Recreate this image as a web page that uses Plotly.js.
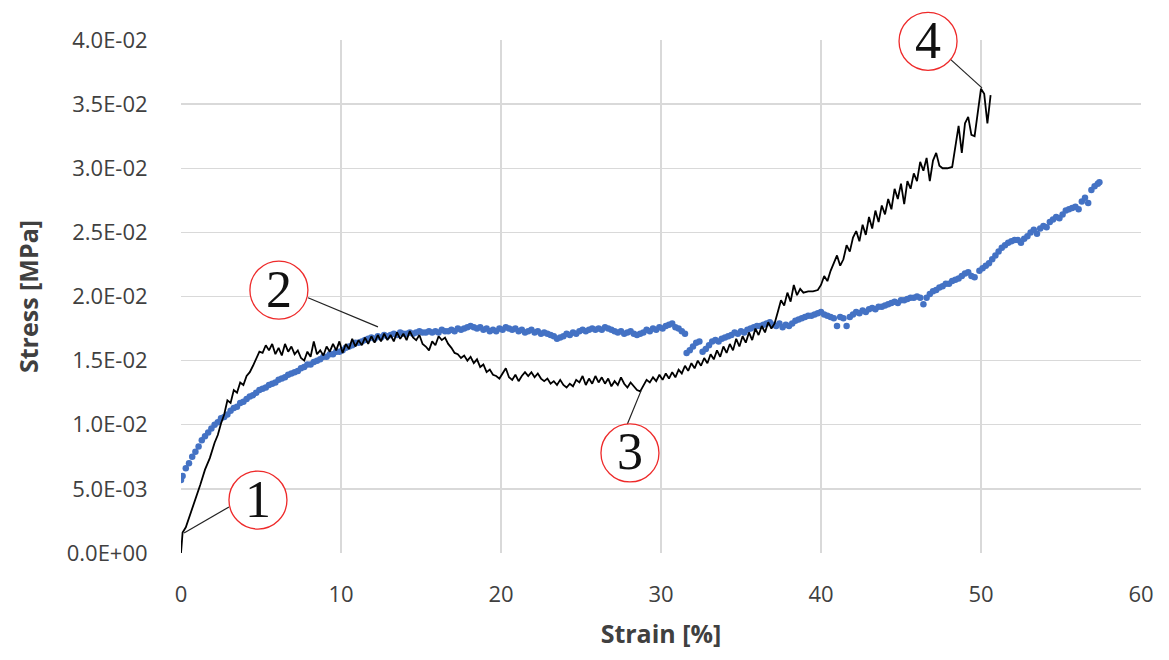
<!DOCTYPE html>
<html>
<head>
<meta charset="utf-8">
<script src="https://cdn.plot.ly/plotly-3.0.1.min.js"></script>
<style>html,body{margin:0;padding:0;background:#fff;}#chart{width:1169px;height:660px;}</style>
</head>
<body>
<div id="chart"></div>
<script>
// Black curve (strain %, stress MPa)
const blackX = [0,0.1,0.3,0.6,0.9,1.2,1.5,1.8,2.1,2.3,2.5,2.7,2.9,3.1,3.3,3.5,3.7,3.9,4.1,4.3,4.5,4.7,4.9,5.1,5.3,5.5,5.7,5.9,6.1,6.3,6.5,6.7,6.9,7.1,7.3,7.5,7.7,7.9,8.1,8.3,8.5,8.7,8.9,9.1,9.3,9.5,9.7,9.9,10.1,10.3,10.5,10.7,10.9,11.1,11.3,11.5,11.7,11.9,12.1,12.3,12.5,12.7,12.9,13.1,13.3,13.5,13.7,13.9,14.1,14.3,14.5,14.7,14.9,15.1,15.3,15.5,15.7,15.9,16.1,16.3,16.5,16.7,16.9,17.1,17.3,17.5,17.7,17.9,18.1,18.3,18.5,18.7,18.9,19.1,19.3,19.5,19.7,19.9,20.1,20.3,20.5,20.7,20.9,21.1,21.3,21.5,21.7,21.9,22.1,22.3,22.5,22.7,22.9,23.1,23.3,23.5,23.7,23.9,24.1,24.3,24.5,24.7,24.9,25.1,25.3,25.5,25.7,25.9,26.1,26.3,26.5,26.7,26.9,27.1,27.3,27.5,27.7,27.9,28.1,28.3,28.5,28.7,28.9,29.1,29.3,29.5,29.7,29.9,30.1,30.3,30.5,30.7,30.9,31.1,31.3,31.5,31.7,31.9,32.1,32.3,32.5,32.7,32.9,33.1,33.3,33.5,33.7,33.9,34.1,34.3,34.5,34.7,34.9,35.1,35.3,35.5,35.7,35.9,36.1,36.3,36.5,36.7,36.9,37.1,37.3,37.5,37.7,37.9,38.1,38.3,38.5,38.7,38.9,39.2,39.5,39.8,40.0,40.2,40.4,40.6,40.8,41.0,41.2,41.4,41.6,41.8,42.0,42.2,42.4,42.6,42.8,43.0,43.2,43.4,43.6,43.8,44.0,44.2,44.4,44.6,44.8,45.0,45.2,45.4,45.6,45.8,46.0,46.2,46.4,46.6,46.8,47.0,47.2,47.4,47.6,47.9,48.2,48.4,48.6,48.8,49.0,49.2,49.4,49.6,49.8,50.0,50.2,50.4,50.6];
const blackY = [0,0.0016,0.0020,0.0031,0.0041,0.0053,0.0065,0.0074,0.0086,0.0092,0.0101,0.0108,0.0119,0.0117,0.0127,0.0125,0.0133,0.0131,0.0138,0.0141,0.0146,0.0152,0.0157,0.0156,0.0162,0.0158,0.0163,0.0155,0.0160,0.0154,0.0163,0.0157,0.0161,0.0155,0.0158,0.0152,0.0150,0.0157,0.0153,0.0165,0.0155,0.0158,0.0154,0.0161,0.0157,0.0163,0.0158,0.0165,0.0156,0.0163,0.0159,0.0167,0.0161,0.0166,0.0162,0.0168,0.0163,0.0169,0.0164,0.0170,0.0165,0.0171,0.0166,0.0170,0.0165,0.0172,0.0167,0.0171,0.0166,0.0173,0.0168,0.0166,0.0170,0.0163,0.0161,0.0158,0.0165,0.0162,0.0169,0.0166,0.0168,0.0163,0.0160,0.0156,0.0155,0.0152,0.0154,0.0150,0.0153,0.0148,0.0151,0.0145,0.0147,0.0141,0.0143,0.0139,0.0138,0.0136,0.0140,0.0144,0.0137,0.0135,0.0139,0.0134,0.0138,0.0141,0.0138,0.0141,0.0137,0.0140,0.0136,0.0134,0.0136,0.0132,0.0134,0.0131,0.0135,0.0131,0.0129,0.0132,0.0130,0.0135,0.0133,0.0138,0.0131,0.0136,0.0132,0.0138,0.0133,0.0137,0.0132,0.0136,0.0130,0.0134,0.0131,0.0137,0.0132,0.0129,0.0133,0.0130,0.0127,0.0126,0.0131,0.0135,0.0133,0.0137,0.0134,0.0139,0.0135,0.0140,0.0136,0.0141,0.0137,0.0143,0.0140,0.0146,0.0142,0.0148,0.0144,0.0150,0.0146,0.0152,0.0148,0.0155,0.0151,0.0158,0.0153,0.0161,0.0156,0.0163,0.0158,0.0167,0.0161,0.0169,0.0164,0.0172,0.0166,0.0175,0.0170,0.0177,0.0172,0.0180,0.0175,0.0179,0.0188,0.0197,0.0193,0.0203,0.0196,0.0209,0.0201,0.0206,0.0203,0.0204,0.0204,0.0205,0.0209,0.0216,0.0212,0.0220,0.0226,0.0232,0.0224,0.0229,0.0240,0.0235,0.0246,0.0251,0.0243,0.0256,0.0248,0.0262,0.0253,0.0267,0.0258,0.0271,0.0264,0.0276,0.0268,0.0284,0.0276,0.0288,0.0272,0.0290,0.0284,0.0296,0.0290,0.0305,0.0298,0.0308,0.0290,0.0306,0.0312,0.0302,0.0300,0.0300,0.0301,0.0318,0.0333,0.0312,0.0335,0.0340,0.0326,0.0325,0.0345,0.0362,0.0358,0.0335,0.0357];

// Blue scatter series
const blueX = [0.0,0.1,0.3,0.5,0.7,0.9,1.1,1.3,1.5,1.7,1.9,2.1,2.3,2.5,2.7,2.9,3.1,3.3,3.5,3.7,3.9,4.1,4.3,4.5,4.7,4.9,5.1,5.3,5.5,5.7,5.9,6.1,6.3,6.5,6.7,6.9,7.1,7.3,7.5,7.7,7.9,8.1,8.3,8.5,8.7,8.9,9.1,9.3,9.5,9.7,9.9,10.1,10.3,10.5,10.7,10.9,11.1,11.3,11.5,11.7,11.9,12.1,12.3,12.5,12.7,12.9,13.1,13.3,13.5,13.7,13.9,14.1,14.3,14.5,14.7,14.9,15.1,15.3,15.5,15.7,15.9,16.1,16.3,16.5,16.7,16.9,17.1,17.3,17.5,17.7,17.9,18.1,18.3,18.5,18.7,18.9,19.1,19.3,19.5,19.7,19.9,20.1,20.3,20.5,20.7,20.9,21.1,21.3,21.5,21.7,21.9,22.1,22.3,22.5,22.7,22.9,23.1,23.3,23.5,23.7,23.9,24.1,24.3,24.5,24.7,24.9,25.1,25.3,25.5,25.7,25.9,26.1,26.3,26.5,26.7,26.9,27.1,27.3,27.5,27.7,27.9,28.1,28.3,28.5,28.7,28.9,29.1,29.3,29.5,29.7,29.9,30.1,30.3,30.5,30.7,30.9,31.1,31.3,31.5,31.6,31.8,32.0,32.2,32.4,32.6,32.8,33.0,33.2,33.4,33.6,33.8,34.0,34.2,34.4,34.6,34.8,35.0,35.2,35.4,35.6,35.8,36.0,36.2,36.4,36.6,36.8,37.0,37.2,37.4,37.6,37.8,38.0,38.2,38.4,38.6,38.8,39.0,39.2,39.4,39.6,39.8,40.0,40.2,40.4,40.6,40.8,41.0,41.2,41.4,41.6,41.8,42.0,42.2,42.4,42.6,42.8,43.0,43.2,43.4,43.6,43.8,44.0,44.2,44.4,44.6,44.8,45.0,45.2,45.4,45.6,45.8,46.0,46.2,46.4,46.6,46.8,47.0,47.2,47.4,47.6,47.8,48.0,48.2,48.4,48.6,48.8,49.0,49.2,49.4,49.6,49.9,50.1,50.3,50.5,50.7,50.9,51.1,51.3,51.5,51.7,51.9,52.1,52.3,52.5,52.7,52.9,53.1,53.3,53.5,53.7,53.9,54.1,54.3,54.5,54.7,54.9,55.1,55.3,55.5,55.7,55.9,56.1,56.3,56.5,56.7,56.9,57.1,57.3,57.4];
const blueY = [0.0057,0.0060,0.0066,0.0070,0.0075,0.0079,0.0083,0.0088,0.0091,0.0094,0.0097,0.0100,0.0102,0.0105,0.0106,0.0108,0.0111,0.0113,0.0114,0.0117,0.0118,0.0120,0.0122,0.0123,0.0125,0.0127,0.0128,0.0129,0.0131,0.0132,0.0133,0.0135,0.0136,0.0137,0.0139,0.0140,0.0141,0.0142,0.0144,0.0145,0.0147,0.0147,0.0149,0.0150,0.0151,0.0153,0.0153,0.0155,0.0155,0.0157,0.0157,0.0158,0.0160,0.0161,0.0162,0.0164,0.0164,0.0165,0.0166,0.0167,0.0168,0.0167,0.0169,0.0168,0.0170,0.0169,0.0170,0.0171,0.0170,0.0172,0.0171,0.0171,0.0172,0.0171,0.0172,0.0173,0.0172,0.0172,0.0173,0.0172,0.0173,0.0172,0.0174,0.0173,0.0173,0.0174,0.0173,0.0175,0.0174,0.0175,0.0176,0.0177,0.0176,0.0175,0.0176,0.0174,0.0175,0.0173,0.0174,0.0173,0.0175,0.0174,0.0176,0.0175,0.0174,0.0175,0.0173,0.0174,0.0172,0.0173,0.0174,0.0172,0.0173,0.0171,0.0172,0.0171,0.0170,0.0169,0.0167,0.0168,0.0169,0.0171,0.0170,0.0172,0.0171,0.0173,0.0174,0.0173,0.0174,0.0175,0.0174,0.0175,0.0174,0.0176,0.0175,0.0174,0.0173,0.0172,0.0173,0.0171,0.0172,0.0173,0.0171,0.0170,0.0171,0.0172,0.0174,0.0173,0.0175,0.0174,0.0176,0.0175,0.0177,0.0178,0.0179,0.0176,0.0175,0.0173,0.0171,0.0156,0.0158,0.0161,0.0164,0.0165,0.0157,0.0159,0.0162,0.0165,0.0166,0.0165,0.0167,0.0168,0.0169,0.0170,0.0172,0.0171,0.0173,0.0172,0.0174,0.0175,0.0176,0.0177,0.0177,0.0178,0.0179,0.0180,0.0178,0.0177,0.0179,0.0176,0.0178,0.0177,0.0179,0.0181,0.0182,0.0183,0.0184,0.0185,0.0185,0.0186,0.0187,0.0188,0.0186,0.0185,0.0184,0.0183,0.0177,0.0184,0.0183,0.0177,0.0184,0.0186,0.0188,0.0187,0.0189,0.0188,0.0190,0.0191,0.0190,0.0192,0.0192,0.0193,0.0194,0.0195,0.0196,0.0195,0.0197,0.0197,0.0198,0.0199,0.0199,0.0200,0.0199,0.0194,0.0199,0.0202,0.0204,0.0205,0.0207,0.0208,0.0210,0.0210,0.0212,0.0213,0.0214,0.0216,0.0218,0.0219,0.0216,0.0215,0.0220,0.0222,0.0224,0.0226,0.0229,0.0232,0.0235,0.0238,0.0240,0.0242,0.0243,0.0244,0.0244,0.0242,0.0245,0.0247,0.0250,0.0252,0.0249,0.0253,0.0255,0.0254,0.0258,0.0260,0.0262,0.0261,0.0264,0.0267,0.0268,0.0269,0.0270,0.0268,0.0274,0.0277,0.0273,0.0283,0.0286,0.0288,0.0289];

// Axis ticks
const yTickVals = [0,0.005,0.01,0.015,0.02,0.025,0.03,0.035,0.04];
const yTickText = ["0.0E+00","5.0E-03","1.0E-02","1.5E-02","2.0E-02","2.5E-02","3.0E-02","3.5E-02","4.0E-02"];
const xTickVals = [0,10,20,30,40,50,60];
const xRange = [0, 60];
const yRange = [0, 0.04];

// Callout labels: label, circle centre, pointer start, pointer end
const calloutText = ["1","2","3","4"];
const calloutCx = [4.81,6.12,28.06,46.69];
const calloutCy = [0.00413,0.0205,0.0078,0.0399];
const pointerX0 = [3.0,7.94,27.9,48.06];
const pointerY0 = [0.00359,0.0199,0.01006,0.03853];
const pointerX1 = [0.19,12.31,28.75,50.06];
const pointerY1 = [0.00156,0.01763,0.01264,0.03627];

const traces = [
  {x: blueX, y: blueY, type: 'scatter', mode: 'markers',
   marker: {color: '#4472C4', size: 6.5, line: {width: 0}}, hoverinfo: 'skip'},
  {x: blackX, y: blackY, type: 'scatter', mode: 'lines',
   line: {color: '#000000', width: 1.8}, hoverinfo: 'skip'}
];

const shapes = [];
const annotations = [];
for (let i = 0; i < calloutText.length; i++) {
  shapes.push({type: 'line', xref: 'x', yref: 'y', x0: pointerX0[i], y0: pointerY0[i], x1: pointerX1[i], y1: pointerY1[i],
    line: {color: '#222222', width: 1.2}, layer: 'above'});
  // circle anchored in paper space so it is not clipped at the plot edge
  const px = (calloutCx[i] - xRange[0]) / (xRange[1] - xRange[0]);
  const py = (calloutCy[i] - yRange[0]) / (yRange[1] - yRange[0]);
  shapes.push({type: 'circle', xref: 'paper', yref: 'paper', xsizemode: 'pixel', ysizemode: 'pixel',
    xanchor: px, yanchor: py, x0: -29, x1: 29, y0: -29, y1: 29,
    line: {color: '#ee2a2a', width: 1.3}, fillcolor: '#ffffff', layer: 'above'});
  annotations.push({x: calloutCx[i], y: calloutCy[i], xref: 'x', yref: 'y', text: calloutText[i], showarrow: false,
    font: {family: 'Liberation Serif, DejaVu Serif, serif', size: 52, color: '#111111'}, yshift: 1});
}

const layout = {
  width: 1169, height: 660,
  margin: {l: 181, r: 28, t: 40, b: 107},
  paper_bgcolor: '#ffffff', plot_bgcolor: '#ffffff',
  showlegend: false,
  font: {family: 'Open Sans, Liberation Sans, sans-serif', color: '#404040'},
  xaxis: {range: xRange, tickvals: xTickVals, showgrid: true, gridcolor: '#d9d9d9', gridwidth: 1.3,
    zeroline: false, showline: false, ticks: 'outside', ticklen: 22, tickcolor: 'rgba(0,0,0,0)',
    tickfont: {size: 22, color: '#404040'},
    title: {text: '<b>Strain [%]</b>', font: {size: 25, color: '#404040'}, standoff: 18}},
  yaxis: {range: yRange, tickvals: yTickVals, ticktext: yTickText, showgrid: true, gridcolor: '#d9d9d9', gridwidth: 1.3,
    zeroline: false, showline: false, ticks: 'outside', ticklen: 28, tickcolor: 'rgba(0,0,0,0)',
    tickfont: {size: 22, color: '#404040'},
    title: {text: '<b>Stress [MPa]</b>', font: {size: 25, color: '#404040'}, standoff: 20}},
  shapes: shapes,
  annotations: annotations
};

Plotly.newPlot('chart', traces, layout, {displayModeBar: false, staticPlot: true});
</script>
</body>
</html>
